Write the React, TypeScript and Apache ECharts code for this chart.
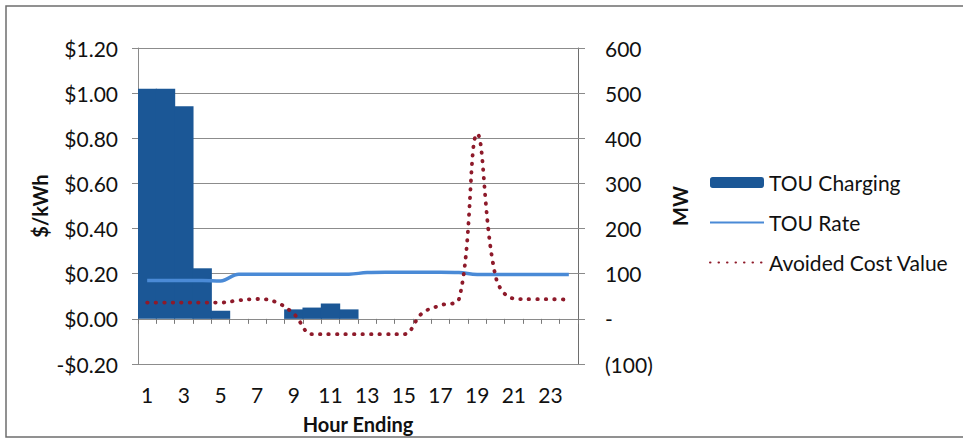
import React, { useEffect, useRef } from "react";
import * as echarts from "echarts";

const hours = ["1","2","3","4","5","6","7","8","9","10","11","12","13","14","15","16","17","18","19","20","21","22","23","24"];
const touCharging = [510, 510, 471, 112, 18, 0, 0, 0, 21, 25, 34, 21, 0, 0, 0, 0, 0, 0, 0, 0, 0, 0, 0, 0];
const touRate = [0.17, 0.17, 0.17, 0.17, 0.168, 0.198, 0.198, 0.198, 0.198, 0.198, 0.198, 0.198, 0.205, 0.206, 0.206, 0.206, 0.206, 0.205, 0.197, 0.197, 0.197, 0.197, 0.197, 0.197];
const avoidedCost = [0.072, 0.072, 0.072, 0.072, 0.072, 0.082, 0.088, 0.075, 0.022, -0.068, -0.068, -0.068, -0.068, -0.068, -0.068, 0.025, 0.06, 0.085, 0.82, 0.19, 0.09, 0.087, 0.087, 0.085];

const FONT = "Lato, 'Noto Sans', sans-serif";
const TEXT = "#111111";

export default function App() {
  const ref = useRef<HTMLDivElement>(null);
  useEffect(() => {
    document.body.style.margin = "0";
    const chart = echarts.init(ref.current!, null, { renderer: "svg" });
    chart.setOption({
      animation: false,
      backgroundColor: "#ffffff",
      textStyle: { fontFamily: FONT },
      graphic: [
        {
          type: "rect",
          shape: { x: 6, y: 6, width: 970, height: 431 },
          style: { fill: "none", stroke: "#6e6e6e", lineWidth: 1.5 },
          silent: true,
        },
      ],
      grid: { left: 138, right: 385, top: 48, bottom: 75, containLabel: false, outerBoundsMode: "none" },
      legend: {
        orient: "vertical",
        left: 704,
        top: 167,
        itemWidth: 54,
        itemHeight: 11,
        itemGap: 19,
        textStyle: { fontFamily: FONT, fontSize: 21, color: TEXT },
        data: [
          { name: "TOU Charging" },
          { name: "TOU Rate", itemStyle: { opacity: 0 } },
          { name: "Avoided Cost Value", itemStyle: { opacity: 0 } },
        ],
      },
      xAxis: {
        type: "category",
        data: hours,
        boundaryGap: true,
        name: "Hour Ending",
        nameLocation: "middle",
        nameGap: 50,
        nameTextStyle: { fontFamily: FONT, fontSize: 20, fontWeight: "bold", color: TEXT },
        axisLine: { show: true, onZero: true, onZeroAxisIndex: 0, lineStyle: { color: "#8a8a8a", width: 1 } },
        axisTick: { show: true, interval: 0, alignWithLabel: false, length: 5, lineStyle: { color: "#7a7a7a" } },
        axisLabel: { interval: 1, margin: 20, fontFamily: FONT, fontSize: 21, color: TEXT },
        splitLine: { show: false },
      },
      yAxis: [
        {
          type: "value",
          min: -0.2,
          max: 1.2,
          interval: 0.2,
          name: "$/kWh",
          nameLocation: "middle",
          nameGap: 88,
          nameTextStyle: { fontFamily: FONT, fontSize: 20, fontWeight: "bold", color: TEXT },
          axisLine: { show: true, lineStyle: { color: "#8a8a8a", width: 1 } },
          axisTick: { show: true, length: 6, lineStyle: { color: "#8a8a8a" } },
          axisLabel: {
            margin: 20,
            fontFamily: FONT,
            fontSize: 21,
            color: TEXT,
            formatter: (v: number) => {
              const a = Math.abs(v).toFixed(2);
              return v < -1e-9 ? "-$" + a : "$" + a;
            },
          },
          splitLine: { show: true, lineStyle: { color: "#8c8c8c", width: 1 } },
        },
        {
          type: "value",
          min: -100,
          max: 600,
          interval: 100,
          name: "MW",
          nameLocation: "middle",
          nameGap: 92,
          nameTextStyle: { fontFamily: FONT, fontSize: 20, fontWeight: "bold", color: TEXT },
          axisLine: { show: true, lineStyle: { color: "#6e6e6e", width: 1 } },
          axisTick: { show: true, length: 7, lineStyle: { color: "#8a8a8a" } },
          axisLabel: {
            margin: 27,
            fontFamily: FONT,
            fontSize: 21,
            color: TEXT,
            formatter: (v: number) => (v === 0 ? "-" : v < 0 ? "(" + Math.abs(v) + ")" : String(v)),
          },
          splitLine: { show: false },
        },
      ],
      series: [
        {
          name: "TOU Charging",
          type: "bar",
          yAxisIndex: 1,
          data: touCharging.map((v) => (v === 0 ? null : v)),
          barWidth: 19.4,
          itemStyle: { color: "#1b5796", borderWidth: 0 },
        },
        {
          name: "TOU Rate",
          type: "line",
          yAxisIndex: 0,
          data: touRate,
          smooth: 0.4,
          symbol: "none",
          lineStyle: { color: "#4a8ad6", width: 3.5 },
          itemStyle: { color: "#4a8ad6" },
        },
        {
          name: "Avoided Cost Value",
          type: "line",
          yAxisIndex: 0,
          data: avoidedCost,
          smooth: 0.4,
          symbol: "none",
          lineStyle: { color: "#8e1a2a", width: 3.8, type: [0.5, 8], cap: "round" },
          itemStyle: { color: "#8e1a2a" },
        },
      ],
    });
    return () => chart.dispose();
  }, []);
  return <div ref={ref} style={{ width: 963, height: 439 }} />;
}
